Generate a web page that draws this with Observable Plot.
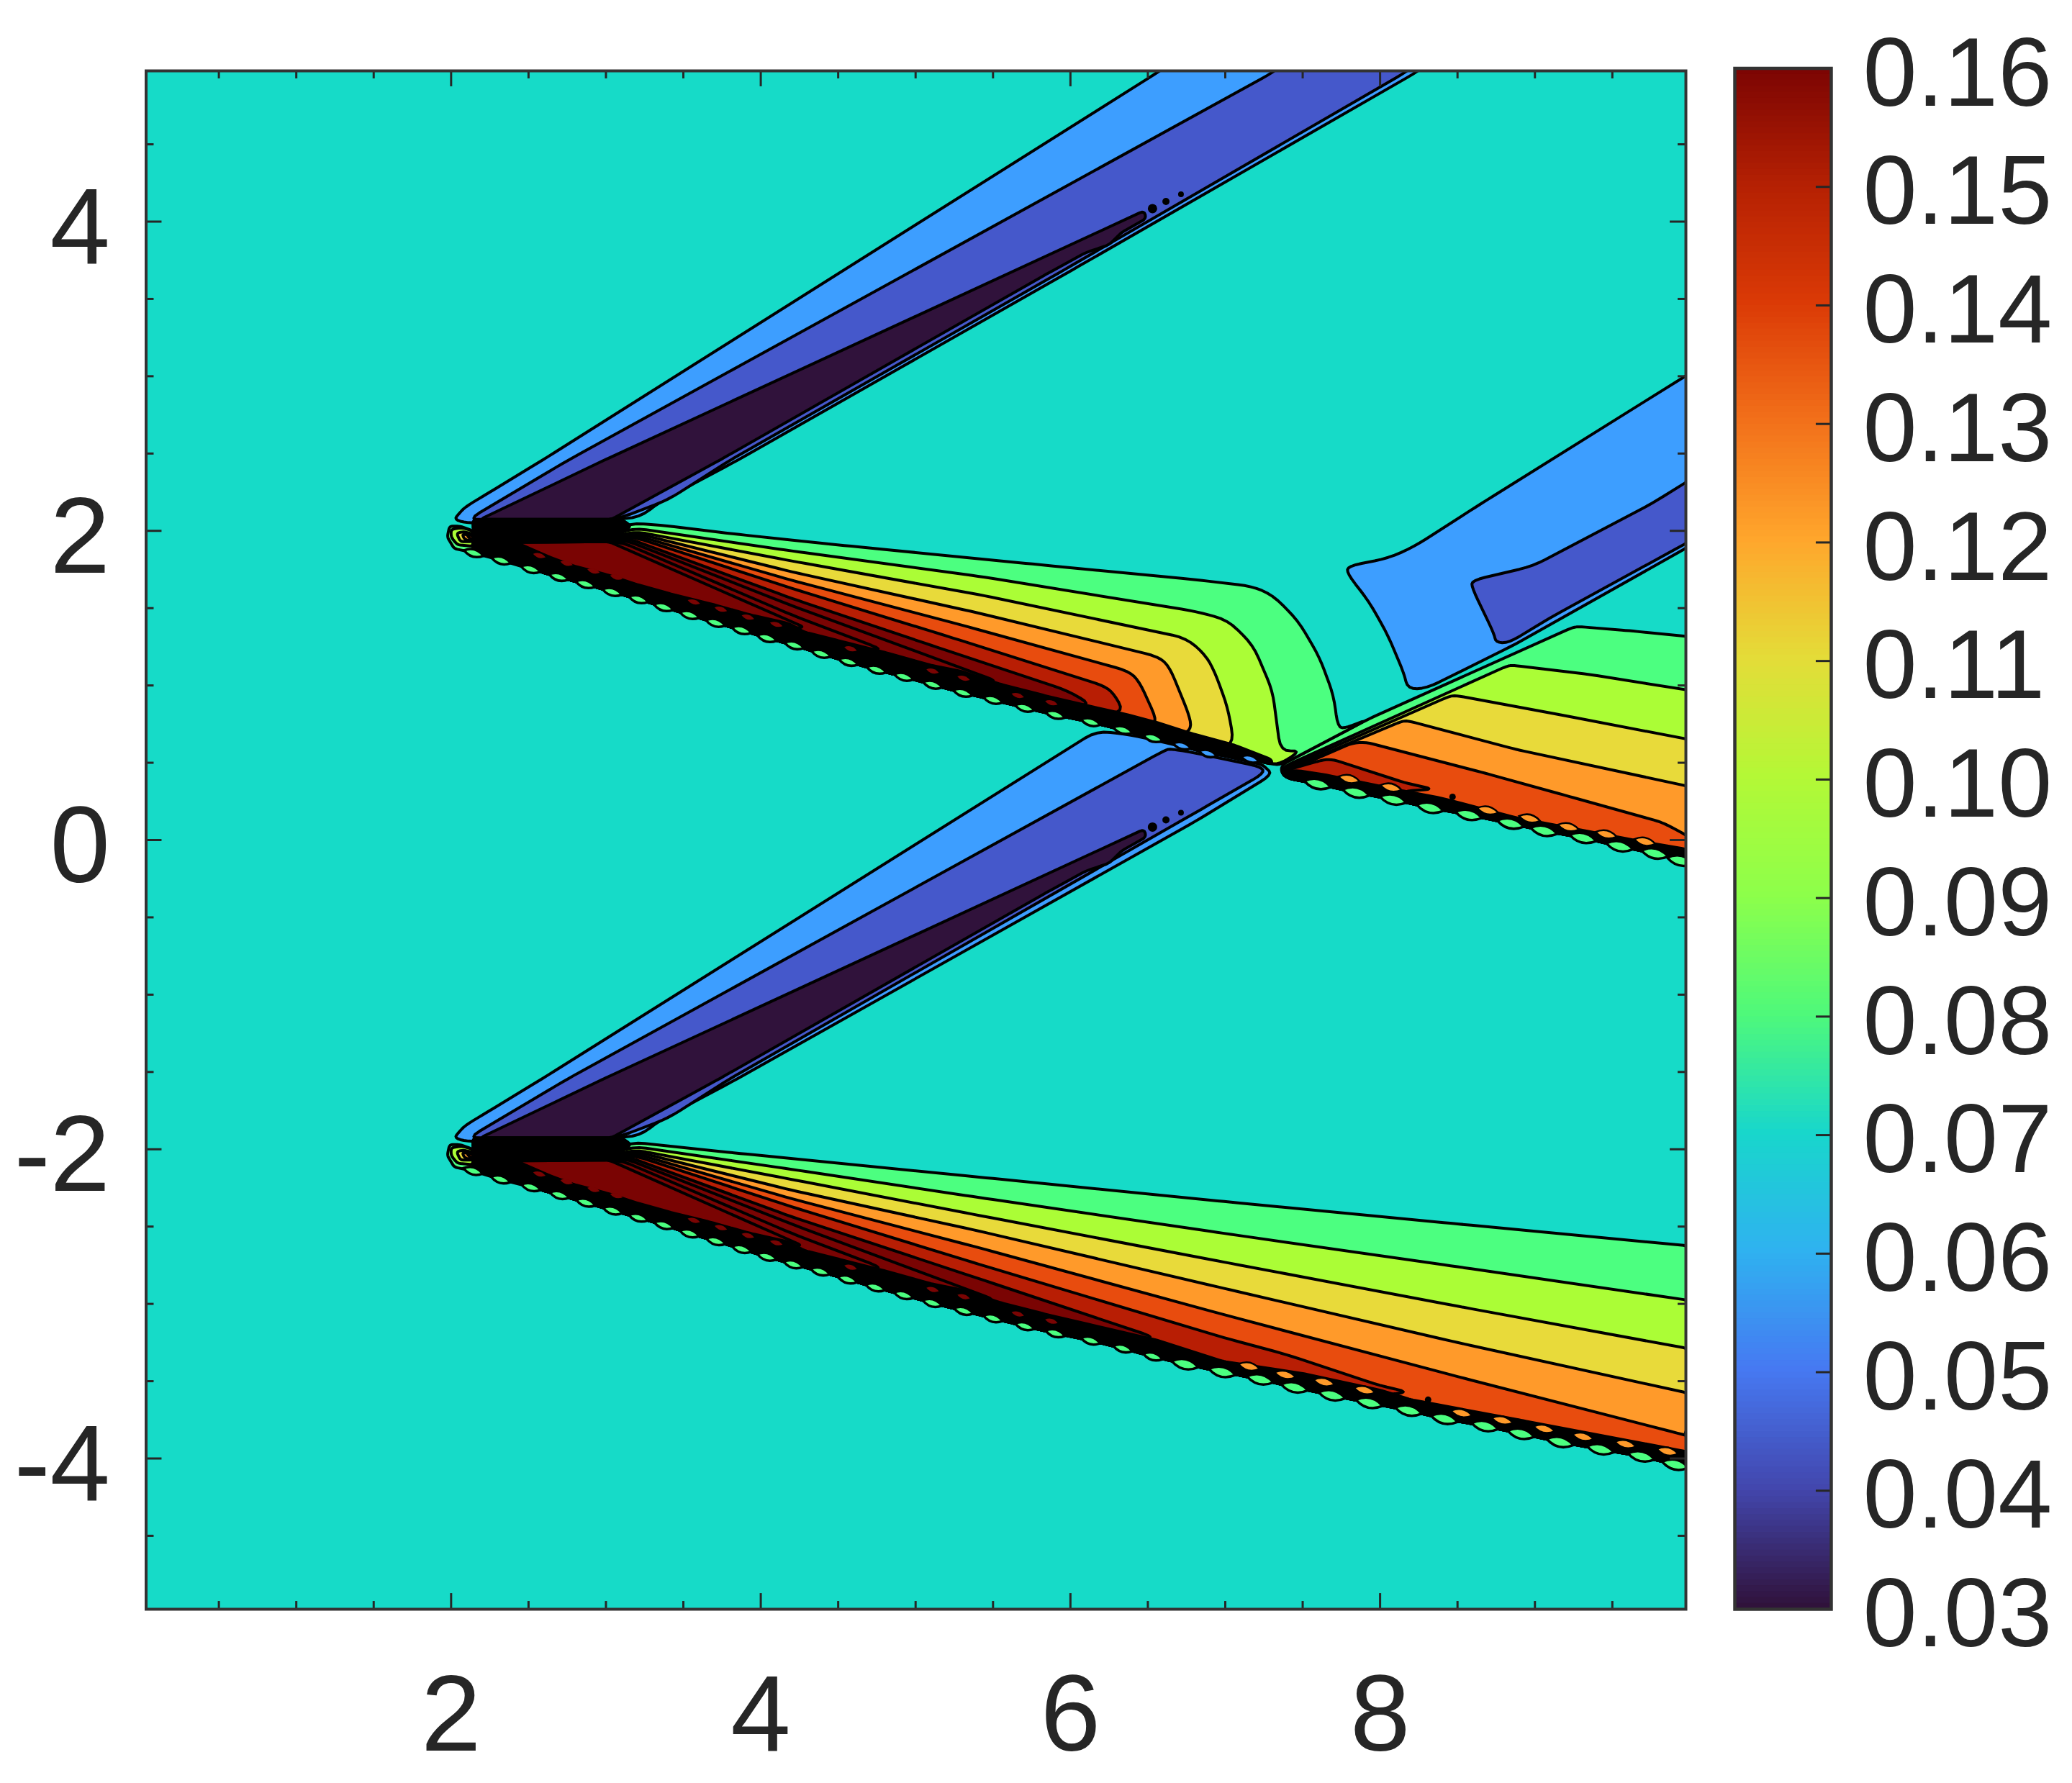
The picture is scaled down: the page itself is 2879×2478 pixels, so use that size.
<!DOCTYPE html>
<html><head><meta charset="utf-8">
<style>html,body{margin:0;padding:0;background:#fff;width:2879px;height:2478px;overflow:hidden}
#chart{position:relative;width:2879px;height:2478px}svg{position:absolute;top:0}</style>
<script src="https://cdn.jsdelivr.net/npm/d3@7"></script>
<script src="https://cdn.jsdelivr.net/npm/@observablehq/plot@0.6"></script>
</head><body><div id="chart"></div>
<script>
// contour levels and the flat colour of each filled band (0.17 = merged black contour mass)
const levels=[0.03,0.04,0.05,0.08,0.09,0.10,0.11,0.12,0.13,0.14,0.17];
const bandColors=["#30123B","#4558CB","#3D9EFF","#4CFF80","#ABFD36","#E8DA3A","#FF9A2A","#E84C0E","#B81E04","#7A0403","#000000"];
const background="#16DBC8";
const xMajor=[2,4,6,8];
const xMinor=[0.5,1,1.5,2.5,3,3.5,4.5,5,5.5,6.5,7,7.5,8.5,9,9.5];
const yMajor=[-4,-2,0,2,4];
const yMinor=[-4.5,-3.5,-3,-2.5,-1.5,-1,-0.5,0.5,1,1.5,2.5,3,3.5,4.5];
const barTicks=[0.04,0.05,0.06,0.07,0.08,0.09,0.10,0.11,0.12,0.13,0.14,0.15];
const barLabels=[0.03,0.04,0.05,0.06,0.07,0.08,0.09,0.10,0.11,0.12,0.13,0.14,0.15,0.16];
const barColors=["#30123B","#4347AE","#4679F2","#2FB2F0","#18D7CB","#4FF97A","#8DFF4A","#B4F836","#E4DC38","#FFA62C","#F2701A","#DB3A06","#B42003","#7A0403"];

// upper compression wedge
const upBlue=[[2.02,2.074],[2.05,2.11],[2.089,2.153],[2.2,2.22],[2.588,2.456],[6.578,4.975],[6.7,5.06],[8.35,5.06],[8.25,4.975],[5.973,3.665],[3.849,2.456],[3.351,2.19],[3.216,2.084],[2.5,2.05],[2.1,2.05]];
const upIndigo=[[2.105,2.07],[2.754,2.456],[7.314,4.968],[7.42,5.06],[8.28,5.06],[8.18,4.975],[5.92,3.665],[3.8,2.456],[3.4,2.2],[3.067,2.074]];
const upPurple=[[2.188,2.074],[2.987,2.456],[6.476,4.07],[6.49,4.02],[6.33,3.93],[6.25,3.85],[6.1,3.8],[5.853,3.665],[3.733,2.456],[3.035,2.074]];
// lower compression wedge
const dnBlue=[[2.02,-1.926],[2.05,-1.89],[2.089,-1.847],[2.2,-1.78],[2.588,-1.544],[6.17,0.707],[6.39,0.68],[6.7,0.61],[7.233,0.49],[7.26,0.47],[7.305,0.425],[6.807,0.121],[3.849,-1.544],[3.351,-1.81],[3.216,-1.916],[2.5,-1.95],[2.1,-1.95]];
const dnIndigo=[[2.105,-1.93],[2.754,-1.544],[6.614,0.583],[6.65,0.59],[6.807,0.563],[7.233,0.474],[7.253,0.433],[6.807,0.177],[3.8,-1.544],[3.4,-1.8],[3.067,-1.926]];
const dnPurple=[[2.188,-1.926],[2.987,-1.544],[6.476,0.07],[6.49,0.02],[6.33,-0.07],[6.25,-0.15],[6.1,-0.2],[5.853,-0.335],[3.733,-1.544],[3.035,-1.926]];
const islets=[{x:6.53,y:4.084,r:6.5},{x:6.617,y:4.13,r:5},{x:6.714,y:4.177,r:4},{x:6.53,y:0.084,r:6.5},{x:6.617,y:0.13,r:5},{x:6.714,y:0.177,r:4},{x:8.468,y:0.279,r:4.5},{x:8.31,y:-3.62,r:4.5}];
// reflected wave, right side
const rightBlue=[[7.793,1.772],[8.053,1.823],[8.22,1.898],[8.654,2.177],[10.05,3.05],[10.05,1.93],[8.88,1.27],[8.3,0.981],[8.178,0.977],[8.156,1.074],[8.05,1.326],[7.93,1.54],[7.786,1.726]];
const rightIndigo=[[8.593,1.679],[8.987,1.772],[9.756,2.177],[10.05,2.36],[10.05,1.96],[9.09,1.433],[8.83,1.274],[8.747,1.279],[8.738,1.33],[8.593,1.633]];

// upper expansion fan: contour lines, ordered outer to inner
const u1=[[3.153,2.051],[3.351,2.037],[3.817,1.981],[4.295,1.93],[4.54,1.905],[5.8,1.781],[6.807,1.684],[7.17,1.642],[7.305,1.586],[7.47,1.419],[7.607,1.186],[7.7,0.935],[7.727,0.726],[7.784,0.726],[7.93,0.785],[7.367,0.488],[7.3,0.49]];
const u2=[[3.17,2.02],[4.2,1.87],[5.448,1.7],[6.807,1.479],[7.015,1.424],[7.18,1.26],[7.305,0.967],[7.357,0.572],[7.49,0.581],[7.37,0.5],[7.3,0.49]];
const u3=[[3.17,2.0],[4.2,1.805],[5.448,1.58],[6.747,1.307],[6.87,1.2],[6.93,1.093],[7.015,0.86],[7.056,0.633],[6.975,0.6]];
const u4=[[3.17,1.99],[4.2,1.735],[5.4,1.47],[6.57,1.186],[6.64,1.12],[6.765,0.814],[6.783,0.721],[6.72,0.68]];
const u5=[[3.16,1.98],[4.2,1.68],[5.3,1.39],[6.375,1.093],[6.444,1.028],[6.56,0.772],[6.517,0.74]];
const u6=[[3.15,1.97],[4.2,1.628],[5.2,1.32],[6.21,1.0],[6.277,0.953],[6.347,0.828],[6.2,0.82]];
const u7=[[3.12,1.96],[4.2,1.563],[5.1,1.26],[5.98,0.967],[6.14,0.874],[5.98,0.87]];
const u8=[[3.1,1.95],[4.2,1.516],[5.54,1.023],[5.4,1.03]];
const u9=[[3.07,1.94],[4.2,1.456],[4.797,1.228],[4.65,1.24]];
const u10=[[2.42,1.925],[3.02,1.93],[4.28,1.377],[4.2,1.37]];
const upBandTop=[[2.14,2.075],[3.1,2.075],[3.165,2.03],[3.02,1.93],[2.42,1.925],[2.621,1.836],[2.787,1.774],[3.02,1.712],[3.186,1.657],[3.435,1.587],[3.684,1.526],[3.933,1.456],[4.182,1.4],[4.28,1.345],[4.5,1.29],[4.797,1.215],[5.1,1.13],[5.3,1.09],[5.54,1.01],[5.85,0.93],[6.14,0.862],[6.35,0.815],[6.56,0.76],[6.78,0.69],[7.056,0.615],[7.3,0.52]];
const upLens=[[2.146,1.856],[2.323,1.809],[2.514,1.753],[2.695,1.702],[2.867,1.656],[3.04,1.605],[3.21,1.558],[3.372,1.507],[3.54,1.456],[3.708,1.405],[3.876,1.358],[4.04,1.307],[4.216,1.26],[4.39,1.205],[4.566,1.153],[4.747,1.102],[4.924,1.056],[5.11,1.005],[5.305,0.953],[5.5,0.907],[5.705,0.856],[5.902,0.81],[6.13,0.763],[6.338,0.712],[6.533,0.66],[6.72,0.61],[6.888,0.56],[7.16,0.525]];
const upEnd=[[7.3,0.49]];

// lower expansion fan
const d1=[[3.162,-1.953],[3.825,-2.023],[5.41,-2.18],[6.993,-2.338],[8.5,-2.483],[10.05,-2.63]];
const d2=[[3.17,-1.98],[4.2,-2.13],[5.41,-2.312],[6.993,-2.544],[8.5,-2.76],[10.05,-2.985]];
const d3s=[[3.17,-2.0],[4.2,-2.195],[5.41,-2.428],[6.993,-2.73],[8.5,-3.015],[10.05,-3.3]];
const d4=[[3.17,-2.01],[4.2,-2.265],[5.41,-2.529],[6.993,-2.9],[8.5,-3.25],[10.05,-3.59]];
const d5=[[3.16,-2.02],[4.2,-2.32],[5.41,-2.637],[6.993,-3.07],[8.5,-3.47],[9.963,-3.847],[10.05,-3.87]];
const d6=[[3.15,-2.03],[4.2,-2.372],[5.41,-2.744],[6.993,-3.219],[7.396,-3.328],[8.0,-3.529],[8.194,-3.572],[8.0,-3.59]];
const d7=[[3.12,-2.04],[4.2,-2.437],[5.41,-2.837],[6.555,-3.22],[6.4,-3.23]];
const d8=[[3.1,-2.05],[4.2,-2.484],[5.53,-2.98],[5.4,-3.0]];
const d9=[[3.07,-2.06],[4.2,-2.544],[4.797,-2.772],[4.65,-2.78]];
const d10=[[2.42,-2.075],[3.02,-2.07],[4.265,-2.622],[4.2,-2.63]];
const dnBandTop=[[2.14,-1.925],[3.1,-1.925],[3.165,-1.97],[3.02,-2.07],[2.42,-2.075],[2.621,-2.164],[2.787,-2.226],[3.02,-2.288],[3.186,-2.343],[3.435,-2.413],[3.684,-2.474],[3.933,-2.544],[4.182,-2.6],[4.28,-2.655],[4.5,-2.71],[4.797,-2.785],[5.1,-2.87],[5.3,-2.91],[5.54,-2.99],[5.85,-3.07],[6.14,-3.138],[6.56,-3.235],[6.99,-3.373],[7.5,-3.45],[8.0,-3.558],[8.2,-3.62],[8.91,-3.753],[9.97,-3.954],[10.05,-3.98]];
const dnLens=[[2.142,-2.14],[2.32,-2.195],[2.516,-2.245],[2.7,-2.296],[2.87,-2.345],[3.044,-2.396],[3.21,-2.442],[3.374,-2.49],[3.54,-2.544],[3.71,-2.594],[3.877,-2.645],[4.04,-2.695],[4.21,-2.744],[4.384,-2.79],[4.56,-2.842],[4.74,-2.893],[4.923,-2.943],[5.108,-2.994],[5.31,-3.045],[5.5,-3.093],[5.705,-3.144],[5.902,-3.19],[6.13,-3.237],[6.338,-3.288],[6.533,-3.34],[6.74,-3.39],[6.98,-3.44],[7.225,-3.488],[7.447,-3.54],[7.689,-3.591],[7.93,-3.64],[8.184,-3.69],[8.415,-3.743],[8.677,-3.79],[8.91,-3.84],[9.162,-3.893],[9.423,-3.94],[9.686,-3.986],[9.907,-4.04]];
const dnEnd=[[10.05,-4.07]];
const dnOrangeLens=[[7.154,-3.405],[7.387,-3.459],[7.639,-3.506],[7.9,-3.558],[8.526,-3.707],[8.79,-3.753],[9.06,-3.808],[9.31,-3.859],[9.585,-3.907],[9.857,-3.954]];

// third fan past the reflection point
const t1=[[7.367,0.488],[7.93,0.785],[9.235,1.372],[9.277,1.381],[9.61,1.354],[10.05,1.31]];
const t2=[[7.387,0.479],[8.82,1.126],[8.86,1.13],[9.36,1.07],[10.05,0.96]];
const t3=[[7.41,0.475],[8.447,0.93],[8.49,0.935],[9.19,0.805],[10.05,0.64]];
const t4=[[7.43,0.47],[8.136,0.767],[8.178,0.772],[8.88,0.586],[10.05,0.335]];
const t5=[[7.46,0.47],[7.82,0.628],[7.91,0.633],[8.677,0.433],[9.2,0.288],[9.816,0.116],[9.9,0.074],[10.05,-0.01]];
const t6=[[7.49,0.479],[7.64,0.521],[7.7,0.52],[8.156,0.372],[8.34,0.33],[8.156,0.316]];
const thBandTop=[[7.46,0.45],[7.64,0.423],[8.156,0.316],[8.4,0.27],[8.88,0.144],[9.71,-0.014],[9.96,-0.056],[10.05,-0.08]];
const thLens=[[7.596,0.363],[7.844,0.308],[8.084,0.262],[8.323,0.209],[8.572,0.163],[8.842,0.107],[9.058,0.06],[9.31,0.014],[9.547,-0.04],[9.774,-0.087],[9.94,-0.133]];
const thStart=[[7.36,0.44],[7.4,0.4]];
const thEnd=[[10.05,-0.16]];
const thOrangeLens=[[7.8,0.395],[8.07,0.34],[8.695,0.192],[8.965,0.14],[9.216,0.084],[9.46,0.037],[9.71,-0.01]];

// leading-edge blobs at each apex
const tipUp=[[[1.99,2.03],[2.06,2.03],[2.14,2.0],[2.14,1.86],[2.02,1.885],[1.975,1.96]],[[2.0,2.01],[2.07,2.02],[2.14,2.0],[2.14,1.9],[2.04,1.91],[2.0,1.96]],[[2.035,1.985],[2.08,1.995],[2.14,1.98],[2.14,1.93],[2.06,1.93]],[[2.07,1.98],[2.14,1.97],[2.14,1.94],[2.09,1.94]],[[2.1,1.975],[2.14,1.97],[2.14,1.945],[2.12,1.95]]];
const tipDn=[[[1.99,-1.97],[2.06,-1.97],[2.14,-2.0],[2.14,-2.14],[2.02,-2.115],[1.975,-2.04]],[[2.0,-1.99],[2.07,-1.98],[2.14,-2.0],[2.14,-2.1],[2.04,-2.09],[2.0,-2.04]],[[2.035,-2.015],[2.08,-2.005],[2.14,-2.02],[2.14,-2.07],[2.06,-2.07]],[[2.07,-2.02],[2.14,-2.03],[2.14,-2.06],[2.09,-2.06]],[[2.1,-2.025],[2.14,-2.03],[2.14,-2.055],[2.12,-2.05]]];
const slivers=[[2.57,1.84],[2.746,1.79],[2.92,1.74],[3.067,1.7],[3.568,1.54],[3.742,1.493],[3.917,1.442],[4.1,1.395],[4.58,1.237],[5.11,1.093],[5.31,1.047],[5.66,0.935],[5.877,0.888],[2.57,-2.16],[2.746,-2.21],[2.92,-2.26],[3.067,-2.3],[3.568,-2.46],[3.742,-2.507],[3.917,-2.558],[4.1,-2.605],[4.58,-2.763],[5.11,-2.907],[5.31,-2.953],[5.66,-3.065],[5.877,-3.112]];

// soften each vertex of a closed contour, the straight runs stay on the read points
function soften(pts,d){
  const out=[],n=pts.length;
  for(let i=0;i<n;i++){
    const V=pts[i],A=pts[(i+n-1)%n],B=pts[(i+1)%n];
    const la=Math.hypot(A[0]-V[0],A[1]-V[1]),lb=Math.hypot(B[0]-V[0],B[1]-V[1]);
    const da=Math.min(d,la/2)/la,db=Math.min(d,lb/2)/lb;
    const P0=[V[0]+(A[0]-V[0])*da,V[1]+(A[1]-V[1])*da],P2=[V[0]+(B[0]-V[0])*db,V[1]+(B[1]-V[1])*db];
    for(let k=0;k<=4;k++){const t=k/4,a=(1-t)*(1-t),b=2*t*(1-t),c=t*t;out.push([a*P0[0]+b*V[0]+c*P2[0],a*P0[1]+b*V[1]+c*P2[1]]);}
  }
  return out;
}
const rows=[];let nextId=0;
function ring(level,pts,d=0.09){const id=nextId++;for(const [x,y] of soften(pts,d))rows.push({id,level,x,y});}
const close=(line,edge,minX)=>{const tip=line[line.length-1][0];return line.concat(edge.filter(p=>p[0]<tip&&p[0]>minX).reverse());};

ring(.05,dnBlue);ring(.04,dnIndigo);ring(.03,dnPurple,.03);
ring(.05,upBlue);ring(.04,upIndigo);ring(.03,upPurple,.03);
ring(.05,rightBlue);ring(.04,rightIndigo);
// third fan
const thEdge=thStart.concat(thLens,thEnd);
[[.08,t1],[.09,t2],[.10,t3],[.11,t4],[.12,t5],[.13,t6]].forEach(([l,a])=>ring(l,close(a,thEdge,0),.05));
ring(.17,thBandTop.concat(thEdge.slice().reverse()),.03);
// upper fan
const upEdge=upLens.concat(upEnd);
[[.08,u1],[.09,u2],[.10,u3],[.11,u4],[.12,u5],[.13,u6],[.14,u7],[.14,u8],[.14,u9]].forEach(([l,a])=>ring(l,close(a,upEdge,2.5)));
ring(.14,close(u10,upEdge,2.42),.03);
tipUp.forEach((p,i)=>ring([.08,.09,.10,.11,.12][i],p,.02));
ring(.17,upBandTop.concat(upEdge.slice().reverse()),.03);
// lower fan
const dnEdge=dnLens.concat(dnEnd);
[[.08,d1],[.09,d2],[.10,d3s],[.11,d4],[.12,d5],[.13,d6],[.14,d7],[.14,d8],[.14,d9]].forEach(([l,a])=>ring(l,close(a,dnEdge,2.5)));
ring(.14,close(d10,dnEdge,2.42),.03);
tipDn.forEach((p,i)=>ring([.08,.09,.10,.11,.12][i],p,.02));
ring(.17,dnBandTop.concat(dnEdge.slice().reverse()),.03);

const lens={draw(c,size){const a=Math.sqrt(size/Math.PI),b=a*0.72;c.moveTo(-a,0);c.quadraticCurveTo(0,b,a,0);c.quadraticCurveTo(0,-b,-a,0);c.closePath();}};
const P=a=>a.map(([x,y])=>({x,y}));
const font="Liberation Sans",ink="#262626";
const yLo=-4.975,yHi=4.975,xLo=0.03,xHi=9.975,maj=0.102,min=0.051;

const main=Plot.plot({
  width:2400,height:2478,marginLeft:202.5,marginRight:58,marginTop:98,marginBottom:242,
  style:{fontFamily:font,background:"transparent"},
  x:{domain:[xLo,xHi],axis:null},y:{domain:[yLo,yHi],axis:null},
  r:{type:"identity"},
  color:{type:"ordinal",domain:levels,range:bandColors},
  marks:[
    Plot.frame({fill:background,stroke:null}),
    Plot.line(rows,{x:"x",y:"y",z:"id",fill:"level",stroke:"#000",strokeWidth:4,curve:"linear-closed",strokeLinejoin:"round",clip:"frame"}),
    Plot.dot(P(slivers),{x:"x",y:"y",r:9,symbol:lens,rotate:16,fill:"#7A0403",stroke:null}),
    Plot.dot(P(upLens.slice(0,25)),{x:"x",y:"y",r:14,symbol:lens,rotate:16,fill:"#4CFF80",stroke:"#000",strokeWidth:3.5}),
    Plot.dot(P(upLens.slice(25)),{x:"x",y:"y",r:13,symbol:lens,rotate:16,fill:"#3D9EFF",stroke:"#000",strokeWidth:3.5}),
    Plot.dot(P(dnLens.slice(0,25)),{x:"x",y:"y",r:14,symbol:lens,rotate:16,fill:"#4CFF80",stroke:"#000",strokeWidth:3.5}),
    Plot.dot(P(dnLens.slice(25)),{x:"x",y:"y",r:19,symbol:lens,rotate:13,fill:"#4CFF80",stroke:"#000",strokeWidth:3.5,clip:"frame"}),
    Plot.dot(P(thLens),{x:"x",y:"y",r:19,symbol:lens,rotate:13,fill:"#4CFF80",stroke:"#000",strokeWidth:3.5,clip:"frame"}),
    Plot.dot(P(dnOrangeLens),{x:"x",y:"y",r:15,symbol:lens,rotate:13,fill:"#FF9A2A",stroke:"#000",strokeWidth:2.5}),
    Plot.dot(P(thOrangeLens),{x:"x",y:"y",r:15,symbol:lens,rotate:13,fill:"#FF9A2A",stroke:"#000",strokeWidth:2.5}),
    Plot.dot(islets,{x:"x",y:"y",r:"r",fill:"#000",stroke:null}),
    // inward ticks on all four sides
    Plot.ruleX(xMajor,{y1:yLo,y2:yLo+maj,stroke:ink,strokeWidth:3}),
    Plot.ruleX(xMajor,{y1:yHi,y2:yHi-maj,stroke:ink,strokeWidth:3}),
    Plot.ruleX(xMinor,{y1:yLo,y2:yLo+min,stroke:ink,strokeWidth:3}),
    Plot.ruleX(xMinor,{y1:yHi,y2:yHi-min,stroke:ink,strokeWidth:3}),
    Plot.ruleY(yMajor,{x1:xLo,x2:xLo+maj,stroke:ink,strokeWidth:3}),
    Plot.ruleY(yMajor,{x1:xHi,x2:xHi-maj,stroke:ink,strokeWidth:3}),
    Plot.ruleY(yMinor,{x1:xLo,x2:xLo+min,stroke:ink,strokeWidth:3}),
    Plot.ruleY(yMinor,{x1:xHi,x2:xHi-min,stroke:ink,strokeWidth:3}),
    Plot.frame({stroke:"#333",strokeWidth:4}),
    Plot.axisX({anchor:"bottom",ticks:xMajor,tickSize:0,tickPadding:90,fontSize:150,fill:ink,tickFormat:d=>String(d),label:null}),
    Plot.axisY({anchor:"left",ticks:yMajor,tickSize:0,tickPadding:50,fontSize:150,fill:ink,tickFormat:d=>String(d),dy:10,label:null})
  ]
});
main.style.left="0px";

const barStops=d3.range(260).map(i=>0.03+i*0.0005);
const bar=Plot.plot({
  width:479,height:2478,marginLeft:10,marginRight:335,marginTop:94.5,marginBottom:242,
  style:{fontFamily:font,background:"transparent"},
  x:{domain:[0,1],axis:null},y:{domain:[0.03,0.16],axis:null},
  color:{type:"linear",domain:[0.03,0.16],interpolate:d3.piecewise(d3.interpolateRgb,barColors)},
  marks:[
    Plot.rect(barStops,{x1:0,x2:1,y1:d=>d,y2:d=>d+0.00055,fill:d=>d}),
    Plot.ruleY(barTicks,{x1:0.843,x2:1,stroke:ink,strokeWidth:3}),
    Plot.frame({stroke:"#333",strokeWidth:4.5}),
    Plot.axisY({anchor:"right",ticks:barLabels,tickSize:0,tickPadding:44,fontSize:135,fill:ink,tickFormat:d3.format(".2f"),dy:8.5,label:null})
  ]
});
bar.style.left="2400px";
document.getElementById("chart").append(main,bar);
</script></body></html>
